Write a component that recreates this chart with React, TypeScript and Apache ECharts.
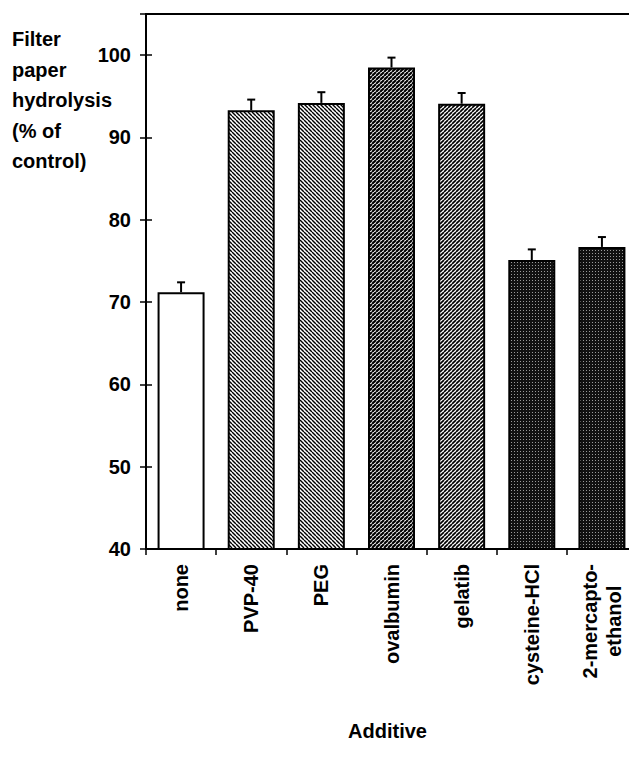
import React, { useEffect, useRef } from "react";
import * as echarts from "echarts";

const categories = ["none", "PVP-40", "PEG", "ovalbumin", "gelatib", "cysteine-HCl", "2-mercapto-\nethanol"];
const values = [71.2, 93.3, 94.2, 98.5, 94.1, 75.1, 76.7];
const errors = [1.2, 1.3, 1.3, 1.2, 1.3, 1.3, 1.2];
const patterns = ["none", "back", "back", "fwdDark", "fwd", "dots", "dots"];
const yTicks = { min: 40, max: 105, interval: 10 };
const yTitle = "Filter\npaper\nhydrolysis\n(% of\ncontrol)";
const xTitle = "Additive";

const FONT = "'Liberation Sans', Arial, Helvetica, sans-serif";

function makeHatch(dir: "back" | "fwd", p: number, lw: number) {
  const c = document.createElement("canvas");
  c.width = p;
  c.height = p;
  const ctx = c.getContext("2d")!;
  ctx.fillStyle = "#fff";
  ctx.fillRect(0, 0, p, p);
  ctx.strokeStyle = "#000";
  ctx.lineWidth = lw;
  for (let k = -1; k <= 1; k++) {
    ctx.beginPath();
    if (dir === "back") {
      ctx.moveTo(k * p, 0);
      ctx.lineTo(k * p + p, p);
    } else {
      ctx.moveTo(k * p, p);
      ctx.lineTo(k * p + p, 0);
    }
    ctx.stroke();
  }
  return c;
}

function makeDots() {
  const c = document.createElement("canvas");
  c.width = 3;
  c.height = 3;
  const ctx = c.getContext("2d")!;
  ctx.fillStyle = "#111";
  ctx.fillRect(0, 0, 3, 3);
  ctx.fillStyle = "#9a9a9a";
  ctx.fillRect(1, 1, 1, 1);
  return c;
}

function fillFor(kind: string): any {
  if (kind === "none") return "#fff";
  if (kind === "back") return { image: makeHatch("back", 4, 1.4), repeat: "repeat" };
  if (kind === "fwdDark") return { image: makeHatch("fwd", 4, 2.1), repeat: "repeat" };
  if (kind === "fwd") return { image: makeHatch("fwd", 4, 1.7), repeat: "repeat" };
  return { image: makeDots(), repeat: "repeat" };
}

export default function App() {
  const ref = useRef<HTMLDivElement>(null);
  useEffect(() => {
    if (!ref.current) return;
    const chart = echarts.init(ref.current, undefined, { renderer: "svg" });
    const barData = values.map((v, i) => ({
      value: v,
      itemStyle: { color: fillFor(patterns[i]), borderColor: "#000", borderWidth: 2 },
    }));
    const errData = values.map((v, i) => [i, v, errors[i]]);
    chart.setOption({
      animation: false,
      backgroundColor: "#fff",
      title: {
        text: yTitle,
        left: 7,
        top: 19,
        textStyle: {
          fontFamily: FONT,
          fontWeight: "bold",
          fontSize: 20,
          lineHeight: 30.5,
          color: "#000",
        },
      },
      grid: {
        left: 146,
        top: 14,
        width: 491,
        height: 535,
        outerBoundsMode: "none",
        containLabel: false,
        show: true,
        borderColor: "#000",
        borderWidth: 2,
        backgroundColor: "transparent",
      },
      xAxis: {
        type: "category",
        data: categories,
        name: xTitle,
        nameLocation: "middle",
        nameGap: 172,
        nameTextStyle: {
          fontFamily: FONT,
          fontWeight: "bold",
          fontSize: 20,
          color: "#000",
          padding: [0, 8, 0, 0],
        },
        axisLine: { lineStyle: { color: "#000", width: 2 } },
        axisTick: { show: true, length: 6, lineStyle: { color: "#000", width: 1.5 } },
        axisLabel: {
          rotate: 90,
          margin: 15,
          interval: 0,
          color: "#000",
          fontFamily: FONT,
          fontWeight: "bold",
          fontSize: 20,
          formatter: (v: string) =>
            v.indexOf("\n") >= 0
              ? v
                  .split("\n")
                  .map((s) => "{c|" + s + "}")
                  .join("\n")
              : v,
          rich: {
            c: {
              align: "center",
              fontFamily: FONT,
              fontWeight: "bold",
              fontSize: 20,
              lineHeight: 24,
              color: "#000",
            },
          },
        },
      },
      yAxis: [
        {
          type: "value",
          min: yTicks.min,
          max: yTicks.max,
          interval: yTicks.interval,
          axisLine: { show: true, lineStyle: { color: "#000", width: 2 } },
          axisTick: { show: true, length: 6, lineStyle: { color: "#000", width: 1.5 } },
          splitLine: { show: false },
          axisLabel: {
            margin: 15,
            color: "#000",
            fontFamily: FONT,
            fontWeight: "bold",
            fontSize: 20,
            formatter: (v: number) => (v > 100 ? "" : String(v)),
          },
        },
        {
          type: "value",
          position: "left",
          min: yTicks.min,
          max: yTicks.max,
          interval: yTicks.interval,
          axisLine: { show: false },
          axisTick: { show: true, inside: true, length: 6, lineStyle: { color: "#000", width: 1.5 } },
          splitLine: { show: false },
          axisLabel: { show: false },
        },
      ],
      series: [
        {
          type: "bar",
          data: barData,
          barWidth: 47,
          yAxisIndex: 0,
          z: 2,
        },
        {
          type: "custom",
          yAxisIndex: 0,
          z: 3,
          data: errData,
          encode: { x: 0, y: 1 },
          renderItem: (params: any, api: any) => {
            const x = api.value(0);
            const v = api.value(1);
            const e = api.value(2);
            const base = api.coord([x, v]);
            const top = api.coord([x, v + e]);
            return {
              type: "group",
              children: [
                {
                  type: "line",
                  shape: { x1: base[0], y1: base[1], x2: top[0], y2: top[1] },
                  style: { stroke: "#000", lineWidth: 2 },
                },
                {
                  type: "line",
                  shape: { x1: top[0] - 4, y1: top[1], x2: top[0] + 4, y2: top[1] },
                  style: { stroke: "#000", lineWidth: 2 },
                },
              ],
            };
          },
        },
      ],
    });
    return () => chart.dispose();
  }, []);
  return (
    <div
      ref={ref}
      style={{ position: "absolute", left: 0, top: 0, width: 629, height: 757 }}
    />
  );
}
